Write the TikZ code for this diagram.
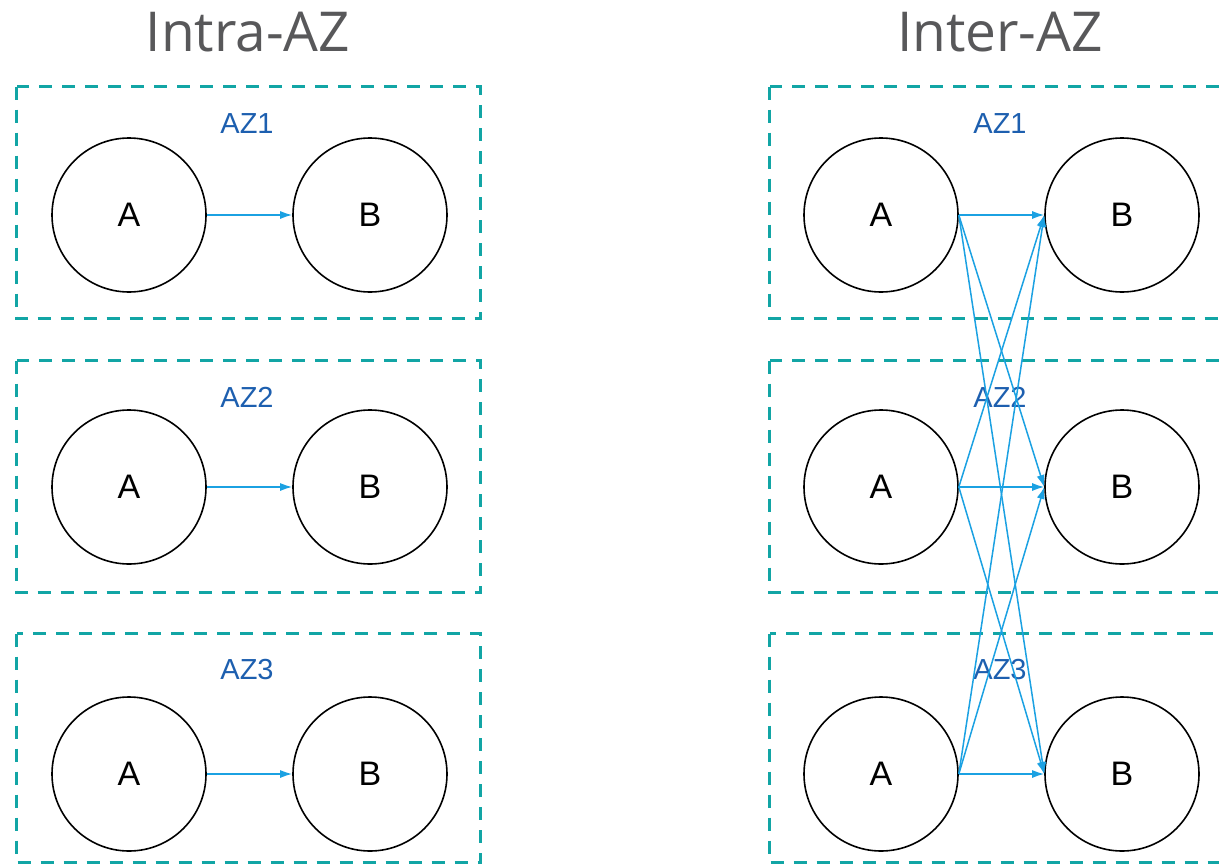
\documentclass[tikz,border=0pt]{standalone}
\usepackage{fontspec}
\setmainfont{Liberation Sans}
\newfontfamily\titlefont{Open Sans}
\usetikzlibrary{arrows.meta}
\definecolor{azteal}{HTML}{12A5A5}
\definecolor{azblue}{HTML}{1D5FAF}
\definecolor{flow}{HTML}{1BA1E2}
\definecolor{titlegray}{HTML}{58585A}
\tikzset{
  zone/.style={draw=azteal, line width=3pt, dash pattern=on 13pt off 10pt},
  zonelabel/.style={text=azblue, font=\fontsize{29}{29}\selectfont},
  svc/.style={circle, draw=black, line width=1.6pt, minimum size=154pt, inner sep=0pt,
    font=\fontsize{34}{34}\selectfont},
  title/.style={text=titlegray, font=\titlefont\fontsize{55}{55}\selectfont},
  link/.style={draw=flow, line width=1.5pt, -{Latex[length=12pt,width=8pt]}}
}
\begin{document}
\begin{tikzpicture}[x=1pt,y=-1pt]
\useasboundingbox (0,0) rectangle (1219,865);
% titles
\node[title] (t1) at (248,32) {Intra-AZ};
\node[title] (t2) at (1000,32) {Inter-AZ};
% availability zones, left column
\draw[zone] (16.5,86.5) rectangle (480.5,318.5);
\draw[zone] (16.5,360.5) rectangle (480.5,592.5);
\draw[zone] (16.5,633.5) rectangle (480.5,862.5);
% availability zones, right column
\draw[zone] (769.5,86.5) rectangle (1233.5,318.5);
\draw[zone] (769.5,360.5) rectangle (1233.5,592.5);
\draw[zone] (769.5,633.5) rectangle (1233.5,862.5);
% zone labels
\node[zonelabel] (ll1) at (247,124) {AZ1};
\node[zonelabel] (ll2) at (247,397) {AZ2};
\node[zonelabel] (ll3) at (247,670) {AZ3};
\node[zonelabel] (rl1) at (1000,124) {AZ1};
\node[zonelabel] (rl2) at (1000,397) {AZ2};
\node[zonelabel] (rl3) at (1000,670) {AZ3};
% services, left
\foreach \i/\y in {1/215,2/487,3/774}{
  \node[svc] (la\i) at (129,\y) {A};
  \node[svc] (lb\i) at (370,\y) {B};
  \draw[link] (la\i.east) -- (lb\i.west);
}
% services, right
\foreach \i/\y in {1/215,2/487,3/774}{
  \node[svc] (ra\i) at (881,\y) {A};
  \node[svc] (rb\i) at (1122,\y) {B};
}
\foreach \i in {1,2,3}{
  \foreach \j in {1,2,3}{
    \draw[link] (ra\i.east) -- (rb\j.west);
  }
}
\end{tikzpicture}
\end{document}
